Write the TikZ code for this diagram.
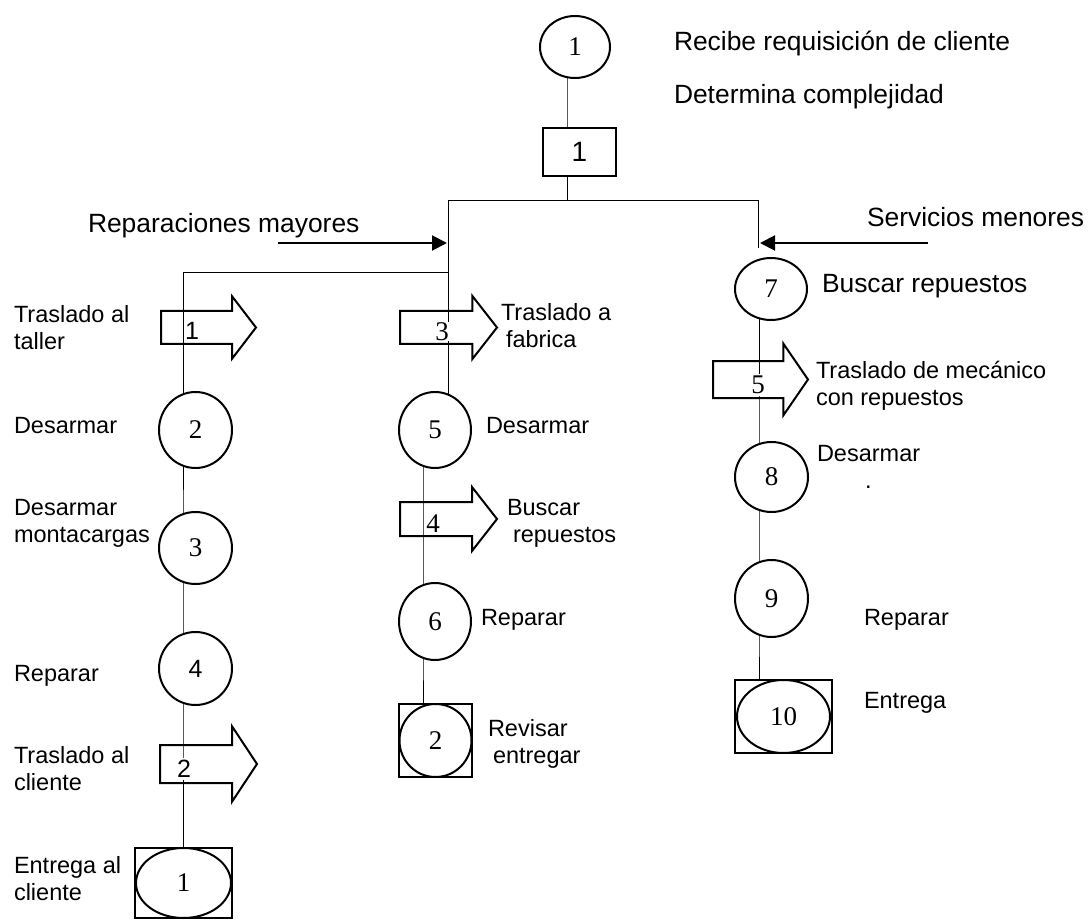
\documentclass[tikz,border=0pt]{standalone}
\usepackage{fontspec}
\setmainfont{Liberation Serif}
\newfontfamily\sansfam{Liberation Sans}
\usetikzlibrary{arrows.meta,shapes.arrows,shapes.geometric,backgrounds}

\newcommand\numserif{\fontsize{27}{32}\selectfont}
\newcommand\numsans{\sansfam\fontsize{25}{30}\selectfont}
\newcommand\lblfont{\sansfam\fontsize{23.5}{27}\selectfont}
\newcommand\biglblfont{\sansfam\fontsize{26.4}{30}\selectfont}

\begin{document}
\begin{tikzpicture}[x=1pt,y=-1pt,line width=2pt,
  op/.style={ellipse, draw, fill=white, inner sep=0pt, font=\numserif},
  chk/.style={rectangle, draw, fill=white, inner sep=0pt},
  mv/.style={single arrow, draw, inner sep=0pt, text depth=0pt,
    minimum width=0pt, anchor=tail},
  mvnum/.style={fill=white, inner sep=0pt, minimum width=14pt},
  lbl/.style={font=\lblfont, align=left, inner sep=0pt, anchor=base west},
  biglbl/.style={font=\biglblfont, align=left, inner sep=0pt, anchor=base west},
  flow/.style={-{Triangle[length=15pt,width=15pt]}}]
\useasboundingbox (0,0) rectangle (1088,920);

% column positions of the flow lines
\coordinate (xT) at (567,0);
\coordinate (xL) at (183,0);
\coordinate (xM) at (448,0);
\coordinate (xM2) at (423,0);
\coordinate (xR) at (759,0);
\coordinate (jT) at (567,200);
\coordinate (jM) at (448,200);
\coordinate (jR) at (758,200);
\coordinate (tR) at (758,248);
\coordinate (jK) at (448,272);
\coordinate (jL) at (183,272);
\coordinate (rmS) at (278,243);
\coordinate (rmE) at (447,243);
\coordinate (smS) at (928,243);
\coordinate (smE) at (760,243);

% start of the process
\node[op, minimum width=70pt, minimum height=62pt] (c1) at (575,47) {1};
\node[chk, minimum width=73pt, minimum height=48pt, font=\sansfam\fontsize{28}{32}\selectfont] (b1) at (579.5,152) {1};

% major repairs, left branch
\node[mv, minimum height=95pt, text height=31pt, single arrow head extend=14.5pt, single arrow tip angle=105] (a1) at (160,327.5) {};
\node[op, minimum width=73pt, minimum height=76pt] (c2) at (195.5,430) {2};
\node[op, minimum width=73pt, minimum height=72pt] (c3) at (195.5,548) {3};
\node[op, minimum width=73pt, minimum height=73pt, font=\numsans] (c4) at (195.5,668.5) {4};
\node[mv, minimum height=97pt, text height=36pt, single arrow head extend=18.5pt, single arrow tip angle=113] (a2) at (159,764) {};
\node[chk, minimum width=97pt, minimum height=70pt] (e1b) at (183.5,883) {};
\node[ellipse, draw, inner sep=0pt, minimum width=95pt, minimum height=70pt, font=\numserif] (e1) at (183.5,883) {1};

% major repairs, middle branch
\node[mv, minimum height=97pt, text height=31pt, single arrow head extend=15pt, single arrow tip angle=104] (a3) at (399,327.5) {};
\node[op, minimum width=72pt, minimum height=76pt] (c5) at (435,430) {5};
\node[mv, minimum height=97pt, text height=32pt, single arrow head extend=15pt, single arrow tip angle=104] (a4) at (399,519) {};
\node[op, minimum width=72pt, minimum height=77pt] (c6) at (435,621.5) {6};
\node[chk, minimum width=73pt, minimum height=73pt] (b2b) at (435.5,740.5) {};
\node[ellipse, draw, inner sep=0pt, minimum width=72pt, minimum height=73pt, font=\numserif] (b2) at (435.5,740.5) {2};

% minor services, right branch
\node[op, minimum width=72pt, minimum height=62pt] (c7) at (771,289) {7};
\node[mv, minimum height=95pt, text height=35pt, single arrow head extend=17.5pt, single arrow tip angle=111] (a5) at (712,379.5) {};
\node[op, minimum width=73pt, minimum height=70pt] (c8) at (771.5,477) {8};
\node[op, minimum width=73pt, minimum height=77pt] (c9) at (771.5,598.5) {9};
\node[chk, minimum width=97pt, minimum height=73pt] (b3b) at (783.5,716.5) {};
\node[ellipse, draw, inner sep=0pt, minimum width=93pt, minimum height=73pt, font=\numserif] (b3) at (783.5,716.5) {10};

% flow lines behind the symbols
\begin{scope}[on background layer]
  \draw (c1.center -| xT) -- (b1.center -| xT) -- (jT);
  \draw (jM) -- (jR) -- (tR);
  \draw (jM) -- (c5.center -| xM);
  \draw (jK) -- (jL) -- (c2.center -| xL);
  \draw (c2.center -| xL) -- (c3.center -| xL) -- (c4.center -| xL) -- (e1.center -| xL);
  \draw (c5.center -| xM2) -- (c6.center -| xM2) -- (b2.center -| xM2);
  \draw (c7.center -| xR) -- (c8.center -| xR) -- (c9.center -| xR) -- (b3.center -| xR);
\end{scope}

% numbers of the transport arrows
\node[mvnum, minimum height=20pt, font=\numsans] (n1) at (192,331) {1};
\node[mvnum, minimum height=22pt, font=\numsans] (n2) at (184,768.5) {2};
\node[mvnum, minimum height=19pt, font=\numserif] (n3) at (442,332) {3};
\node[mvnum, minimum height=19pt, font=\numserif] (n4) at (433,524) {4};
\node[mvnum, minimum height=22pt, font=\numserif] (n5) at (758,384.5) {5};

% branch arrows
\draw[flow] (rmS) -- (rmE);
\draw[flow] (smS) -- (smE);

% labels (multi-line ones are placed by the baseline of their last line)
\node[biglbl] (t1) at (673,51) {Recibe requisición de cliente};
\node[biglbl] (t2) at (673,104) {Determina complejidad};
\node[biglbl] (t3) at (87,233) {Reparaciones mayores};
\node[biglbl] (t4) at (866,227) {Servicios menores};

\node[lbl] (l1) at (13,349) {Traslado al\\taller};
\node[lbl] (l2) at (13,433) {Desarmar};
\node[lbl] (l3) at (13,542) {Desarmar\\montacargas};
\node[lbl] (l4) at (13,681) {Reparar};
\node[lbl] (l5) at (13,790) {Traslado al\\cliente};
\node[lbl] (l6) at (13,900) {Entrega al\\cliente};

\node[lbl] (m1) at (500,348) {Traslado a\\\hspace*{5pt}fabrica};
\node[lbl] (m2) at (485,433) {Desarmar};
\node[lbl] (m3) at (506,542) {Buscar\\\hspace*{6pt}repuestos};
\node[lbl] (m4) at (480,625) {Reparar};
\node[lbl] (m5) at (487,763) {Revisar\\\hspace*{5pt}entregar};

\node[biglbl] (r1) at (821,293) {Buscar repuestos};
\node[lbl] (r2) at (815,405) {Traslado de mecánico\\con repuestos};
\node[lbl] (r3) at (816,488) {Desarmar\\\hspace*{48pt}.};
\node[lbl] (r4) at (863,625) {Reparar};
\node[lbl] (r5) at (863,708) {Entrega};
\end{tikzpicture}
\end{document}
